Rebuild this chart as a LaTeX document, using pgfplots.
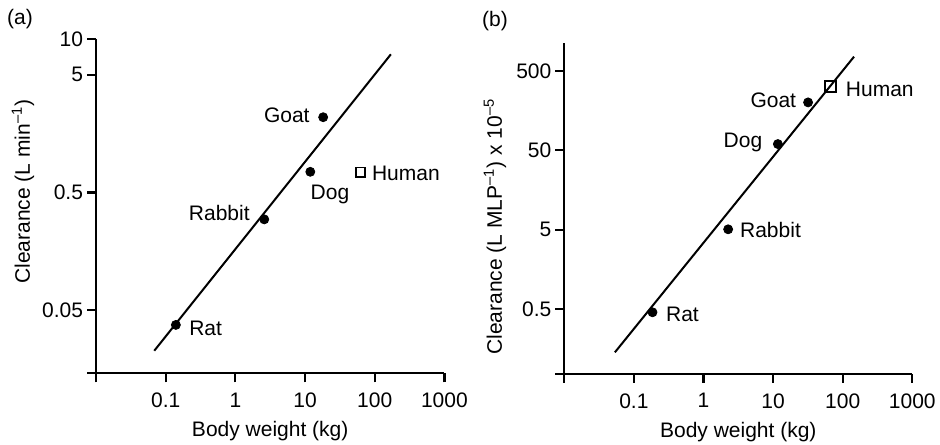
\documentclass[border=0pt]{standalone}
\usepackage{fontspec}
\setmainfont{Liberation Sans}
\usepackage{pgfplots}
\pgfplotsset{compat=1.18}
\begin{document}
\fontsize{10.5}{12}\selectfont
\begin{tikzpicture}
\useasboundingbox (0pt,0pt) rectangle (470pt,222pt);
% panel (a)
\begin{axis}[scale only axis, xmode=log, ymode=log,
  axis x line=bottom, axis y line=left, axis line style={line width=1.1pt,-},
  tick style={line width=1.1pt,black}, major tick length=4.5pt, tick align=outside,
  xminorticks=false, yminorticks=false,
  xmin=0.01, xmax=1000, xtick={0.01,0.1,1,10,100,1000}, xticklabels={,0.1,1,10,100,1000},
  yticklabel style={inner xsep=0pt, xshift=-1.8pt}, xticklabel style={yshift=-1.5pt},
  /pgf/number format/assume math mode=true, clip=false,
  at={(48pt,35.35pt)}, anchor=south west, width=174.2pt, height=167pt,
  ymin=0.0146, ymax=10, ytick={0.0146,0.05,0.5,5,10}, yticklabels={,0.05,0.5,5,10},
  xlabel={Body weight (kg)}, xlabel style={at={(axis description cs:0.5,0)}, anchor=center, yshift=-29pt},
  ylabel={Clearance (L min\textsuperscript{\textendash1})}, ylabel style={at={(axis description cs:-0.2095,0.544)}, anchor=center}]
\addplot[no marks, black, line width=1pt] coordinates {(0.0686,0.0227) (170.6,7.46)};
\addplot[only marks, mark=*, mark size=2.25pt, black] coordinates {(0.14,0.0376) (2.6,0.296) (11.9,0.75) (18.2,2.18)};
\addplot[only marks, mark=square, mark size=2.3pt, black, mark options={fill=white, line width=0.8pt}] coordinates {(62.8,0.743)};
\node[inner sep=0pt, anchor=east] at (axis cs:18.2,2.18) [xshift=-6.6pt, yshift=1.1pt] {Goat};
\node[inner sep=0pt, anchor=west] at (axis cs:11.9,0.75) [xshift=0pt, yshift=-11.5pt] {Dog};
\node[inner sep=0pt, anchor=east] at (axis cs:2.6,0.296) [xshift=-7.1pt, yshift=3pt] {Rabbit};
\node[inner sep=0pt, anchor=west] at (axis cs:0.14,0.0376) [xshift=6.5pt, yshift=-1.6pt] {Rat};
\node[inner sep=0pt, anchor=west] at (axis cs:62.8,0.743) [xshift=5.5pt, yshift=-0.5pt] {Human};
\end{axis}
% panel (b)
\begin{axis}[scale only axis, xmode=log, ymode=log,
  axis x line=bottom, axis y line=left, axis line style={line width=1.1pt,-},
  tick style={line width=1.1pt,black}, major tick length=4.5pt, tick align=outside,
  xminorticks=false, yminorticks=false,
  xmin=0.01, xmax=1000, xtick={0.01,0.1,1,10,100,1000}, xticklabels={,0.1,1,10,100,1000},
  yticklabel style={inner xsep=0pt, xshift=-1.8pt}, xticklabel style={yshift=-1.5pt},
  /pgf/number format/assume math mode=true, clip=false,
  at={(282.15pt,35pt)}, anchor=south west, width=174pt, height=165.65pt,
  ymin=0.0757, ymax=1137, ytick={0.0757,0.5,5,50,500}, yticklabels={,0.5,5,50,500},
  xlabel={Body weight (kg)}, xlabel style={at={(axis description cs:0.5,0)}, anchor=center, yshift=-28.8pt},
  ylabel={Clearance (L MLP\textsuperscript{\textendash1}) x 10\textsuperscript{\textendash5}}, ylabel style={at={(axis description cs:-0.1989,0.445)}, anchor=center}]
\addplot[no marks, black, line width=1pt] coordinates {(0.0533,0.142) (145.5,758)};
\addplot[only marks, mark=*, mark size=2.25pt, black] coordinates {(0.185,0.454) (2.26,5.05) (11.7,60) (31.8,201)};
\addplot[only marks, mark=square, mark size=2.7pt, black, mark options={fill=white, line width=0.8pt}] coordinates {(66.5,318)};
\node[inner sep=0pt, anchor=east] at (axis cs:31.8,201) [xshift=-5.8pt, yshift=1.1pt] {Goat};
\node[inner sep=0pt, anchor=east] at (axis cs:11.7,60) [xshift=-7.6pt, yshift=0.6pt] {Dog};
\node[inner sep=0pt, anchor=west] at (axis cs:2.26,5.05) [xshift=5.8pt, yshift=-0.3pt] {Rabbit};
\node[inner sep=0pt, anchor=west] at (axis cs:0.185,0.454) [xshift=6.6pt, yshift=-0.8pt] {Rat};
\node[inner sep=0pt, anchor=west] at (axis cs:66.5,318) [xshift=7.6pt, yshift=-1.3pt] {Human};
\end{axis}
\node[inner sep=0pt] at (10pt,212.5pt) {(a)};
\node[inner sep=0pt] at (247.5pt,211.5pt) {(b)};
\end{tikzpicture}
\end{document}
